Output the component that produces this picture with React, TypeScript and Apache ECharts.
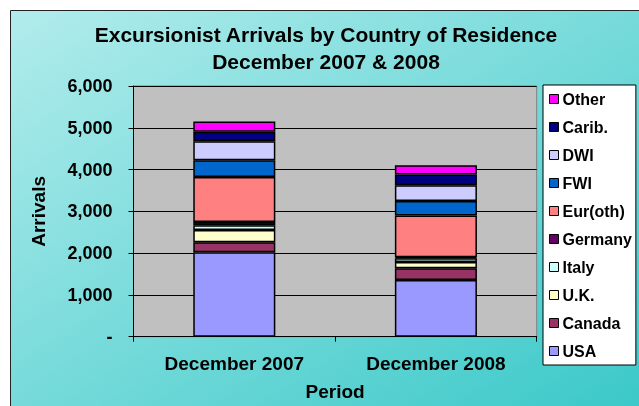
import React, { useEffect, useRef } from "react";
import * as echarts from "echarts";

const categories = ["December 2007", "December 2008"];
const seriesNames = ["USA", "Canada", "U.K.", "Italy", "Germany", "Eur(oth)", "FWI", "DWI", "Carib.", "Other"];
const usa = [2020, 1355];
const canada = [240, 285];
const uk = [295, 145];
const italy = [110, 90];
const germany = [80, 25];
const eurOth = [1075, 1000];
const fwi = [405, 350];
const dwi = [455, 375];
const carib = [225, 255];
const other = [245, 225];
const colors = ["#9999ff", "#993366", "#ffffcc", "#ccffff", "#660066", "#ff8080", "#0066cc", "#ccccff", "#000080", "#ff00ff"];
const yTicks = [0, 1000, 2000, 3000, 4000, 5000, 6000];

const FONT = "'Liberation Sans', Arial, sans-serif";

export default function App() {
  const ref = useRef<HTMLDivElement>(null);
  useEffect(() => {
    if (!ref.current) return;
    const chart = echarts.init(ref.current, undefined, { renderer: "svg" });
    const values = [usa, canada, uk, italy, germany, eurOth, fwi, dwi, carib, other];
    const fmt = (v: number) => (v === 0 ? "-" : v.toLocaleString("en-US"));
    chart.setOption({
      animation: false,
      graphic: [
        {
          type: "rect",
          z: -10,
          silent: true,
          shape: { x: 10.5, y: 10.5, width: 640, height: 400 },
          style: {
            fill: new echarts.graphic.LinearGradient(0, 0, 1, 1, [
              { offset: 0, color: "#b2ecec" },
              { offset: 1, color: "#3ac8c8" },
            ]),
            stroke: "#222",
            lineWidth: 1,
          },
        },
      ],
      title: {
        text: "Excursionist Arrivals by Country of Residence\nDecember 2007 & 2008",
        left: 326,
        top: 21,
        padding: 0,
        textAlign: "center",
        textStyle: { fontFamily: FONT, fontSize: 21, fontWeight: "bold", lineHeight: 27, color: "#000" },
      },
      legend: {
        orient: "vertical",
        left: 543,
        top: 85,
        data: seriesNames.slice().reverse(),
        backgroundColor: "#fff",
        borderColor: "#000",
        borderWidth: 1,
        borderRadius: 0,
        padding: [6, 4, 6, 6],
        itemGap: 12,
        itemWidth: 9,
        itemHeight: 9,
        icon: "rect",
        itemStyle: { borderColor: "#000", borderWidth: 1 },
        textStyle: { fontFamily: FONT, fontSize: 16, fontWeight: "bold", lineHeight: 16, color: "#000", padding: [0, 0, 0, -1] },
      },
      grid: {
        left: 133.5,
        top: 86,
        right: 102.3,
        bottom: 69.3,
        show: true,
        backgroundColor: "#c0c0c0",
        borderColor: "#808080",
        borderWidth: 1,
      },
      xAxis: {
        type: "category",
        data: categories,
        name: "Period",
        nameLocation: "middle",
        nameGap: 45,
        nameTextStyle: { fontFamily: FONT, fontSize: 19, fontWeight: "bold", color: "#000" },
        axisLine: { lineStyle: { color: "#000", width: 1 } },
        axisTick: { show: true, length: 5, lineStyle: { color: "#000" } },
        axisLabel: { fontFamily: FONT, fontSize: 19, fontWeight: "bold", color: "#000", margin: 17 },
      },
      yAxis: {
        type: "value",
        min: yTicks[0],
        max: yTicks[yTicks.length - 1],
        interval: 1000,
        name: "Arrivals",
        nameLocation: "middle",
        nameGap: 86,
        nameRotate: 90,
        nameTextStyle: { fontFamily: FONT, fontSize: 19, fontWeight: "bold", color: "#000" },
        axisLine: { show: true, lineStyle: { color: "#000", width: 1 } },
        axisTick: { show: true, length: 5, lineStyle: { color: "#000" } },
        splitLine: { show: true, lineStyle: { color: "#000", width: 1 } },
        axisLabel: { fontFamily: FONT, fontSize: 18, fontWeight: "bold", color: "#000", margin: 21, formatter: fmt },
      },
      series: seriesNames.map((name, i) => ({
        name,
        type: "bar",
        stack: "total",
        barWidth: "40.7%",
        data: values[i],
        itemStyle: { color: colors[i], borderColor: "#000", borderWidth: 1.5 },
      })),
    });
    return () => chart.dispose();
  }, []);
  return <div ref={ref} style={{ position: "fixed", left: 0, top: 0, width: 639, height: 406 }} />;
}
